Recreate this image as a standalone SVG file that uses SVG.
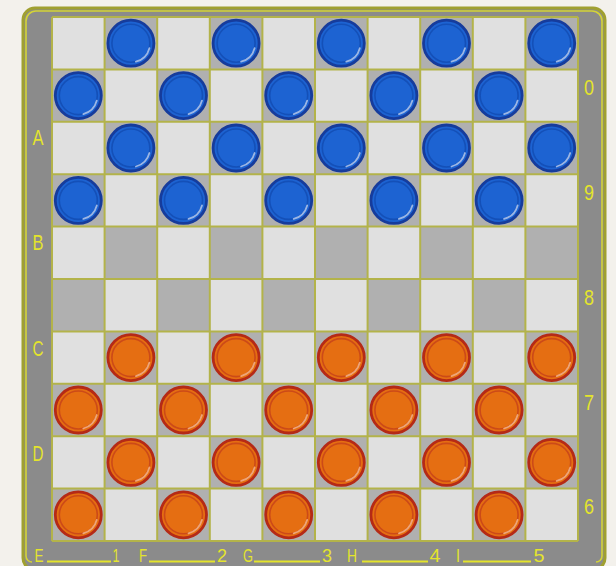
<svg xmlns="http://www.w3.org/2000/svg" xmlns:xlink="http://www.w3.org/1999/xlink" width="616" height="566" viewBox="0 0 616 566">
<defs>
<style>
.lbl{font-family:"Liberation Sans",Arial,sans-serif;font-size:22.5px;fill:#e4e42c;text-anchor:middle}
.bl{font-family:"Liberation Sans",Arial,sans-serif;font-size:19px;fill:#e4e42c;text-anchor:middle}
.dk{fill:#b0b0b0}
.gl{stroke:#b3b34a;stroke-width:2;fill:none}
.ul{stroke:#e4e42c;stroke-width:1.8;fill:none}
</style>
<g id="blue">
<circle r="23" fill="#1d63d2" stroke="#163c9c" stroke-width="2.8"/>
<circle r="19" fill="none" stroke="#1450b8" stroke-width="1.6"/>
<path d="M 18.5 5 A 19 19 0 0 1 5 18.5" fill="none" stroke="#c8d8f4" stroke-width="1.8" stroke-linecap="round" opacity="0.75"/>
</g>
<g id="orange">
<circle r="23" fill="#e56e12" stroke="#b52a16" stroke-width="2.8"/>
<circle r="19" fill="none" stroke="#cc4a18" stroke-width="1.6"/>
<path d="M 18.5 5 A 19 19 0 0 1 5 18.5" fill="none" stroke="#f8c498" stroke-width="1.8" stroke-linecap="round" opacity="0.75"/>
</g>
</defs>
<rect width="616" height="566" fill="#f3f1ec"/>
<g id="frame">
<rect x="23" y="8" width="582" height="562" rx="12" fill="#8b8b8b" stroke="#a0a030" stroke-width="3"/>
<path d="M32 562 A6 6 0 0 1 26 556 V21 A10 10 0 0 1 36 11 H592 A10 10 0 0 1 602 21 V556 A6 6 0 0 1 596 562" fill="none" stroke="#d4d436" stroke-width="1.6"/>
</g>
<g id="board">
<rect x="52" y="17" width="526" height="524" fill="#e0e0e0"/>
<g id="dark-squares">
<rect class="dk" x="104.6" y="17" width="52.6" height="52.4"/><rect class="dk" x="209.8" y="17" width="52.6" height="52.4"/><rect class="dk" x="315" y="17" width="52.6" height="52.4"/><rect class="dk" x="420.2" y="17" width="52.6" height="52.4"/><rect class="dk" x="525.4" y="17" width="52.6" height="52.4"/>
<rect class="dk" x="52" y="69.4" width="52.6" height="52.4"/><rect class="dk" x="157.2" y="69.4" width="52.6" height="52.4"/><rect class="dk" x="262.4" y="69.4" width="52.6" height="52.4"/><rect class="dk" x="367.6" y="69.4" width="52.6" height="52.4"/><rect class="dk" x="472.8" y="69.4" width="52.6" height="52.4"/>
<rect class="dk" x="104.6" y="121.8" width="52.6" height="52.4"/><rect class="dk" x="209.8" y="121.8" width="52.6" height="52.4"/><rect class="dk" x="315" y="121.8" width="52.6" height="52.4"/><rect class="dk" x="420.2" y="121.8" width="52.6" height="52.4"/><rect class="dk" x="525.4" y="121.8" width="52.6" height="52.4"/>
<rect class="dk" x="52" y="174.2" width="52.6" height="52.4"/><rect class="dk" x="157.2" y="174.2" width="52.6" height="52.4"/><rect class="dk" x="262.4" y="174.2" width="52.6" height="52.4"/><rect class="dk" x="367.6" y="174.2" width="52.6" height="52.4"/><rect class="dk" x="472.8" y="174.2" width="52.6" height="52.4"/>
<rect class="dk" x="104.6" y="226.6" width="52.6" height="52.4"/><rect class="dk" x="209.8" y="226.6" width="52.6" height="52.4"/><rect class="dk" x="315" y="226.6" width="52.6" height="52.4"/><rect class="dk" x="420.2" y="226.6" width="52.6" height="52.4"/><rect class="dk" x="525.4" y="226.6" width="52.6" height="52.4"/>
<rect class="dk" x="52" y="279" width="52.6" height="52.4"/><rect class="dk" x="157.2" y="279" width="52.6" height="52.4"/><rect class="dk" x="262.4" y="279" width="52.6" height="52.4"/><rect class="dk" x="367.6" y="279" width="52.6" height="52.4"/><rect class="dk" x="472.8" y="279" width="52.6" height="52.4"/>
<rect class="dk" x="104.6" y="331.4" width="52.6" height="52.4"/><rect class="dk" x="209.8" y="331.4" width="52.6" height="52.4"/><rect class="dk" x="315" y="331.4" width="52.6" height="52.4"/><rect class="dk" x="420.2" y="331.4" width="52.6" height="52.4"/><rect class="dk" x="525.4" y="331.4" width="52.6" height="52.4"/>
<rect class="dk" x="52" y="383.8" width="52.6" height="52.4"/><rect class="dk" x="157.2" y="383.8" width="52.6" height="52.4"/><rect class="dk" x="262.4" y="383.8" width="52.6" height="52.4"/><rect class="dk" x="367.6" y="383.8" width="52.6" height="52.4"/><rect class="dk" x="472.8" y="383.8" width="52.6" height="52.4"/>
<rect class="dk" x="104.6" y="436.2" width="52.6" height="52.4"/><rect class="dk" x="209.8" y="436.2" width="52.6" height="52.4"/><rect class="dk" x="315" y="436.2" width="52.6" height="52.4"/><rect class="dk" x="420.2" y="436.2" width="52.6" height="52.4"/><rect class="dk" x="525.4" y="436.2" width="52.6" height="52.4"/>
<rect class="dk" x="52" y="488.6" width="52.6" height="52.4"/><rect class="dk" x="157.2" y="488.6" width="52.6" height="52.4"/><rect class="dk" x="262.4" y="488.6" width="52.6" height="52.4"/><rect class="dk" x="367.6" y="488.6" width="52.6" height="52.4"/><rect class="dk" x="472.8" y="488.6" width="52.6" height="52.4"/>
</g>
<path class="gl" d="M52 17V541M104.6 17V541M157.2 17V541M209.8 17V541M262.4 17V541M315 17V541M367.6 17V541M420.2 17V541M472.8 17V541M525.4 17V541M578 17V541M52 17H578M52 69.4H578M52 121.8H578M52 174.2H578M52 226.6H578M52 279H578M52 331.4H578M52 383.8H578M52 436.2H578M52 488.6H578M52 541H578"/>
</g>
<g id="blue-pieces">
<use xlink:href="#blue" x="130.9" y="43.2"/><use xlink:href="#blue" x="236.1" y="43.2"/><use xlink:href="#blue" x="341.3" y="43.2"/><use xlink:href="#blue" x="446.5" y="43.2"/><use xlink:href="#blue" x="551.7" y="43.2"/>
<use xlink:href="#blue" x="78.3" y="95.6"/><use xlink:href="#blue" x="183.5" y="95.6"/><use xlink:href="#blue" x="288.7" y="95.6"/><use xlink:href="#blue" x="393.9" y="95.6"/><use xlink:href="#blue" x="499.1" y="95.6"/>
<use xlink:href="#blue" x="130.9" y="148"/><use xlink:href="#blue" x="236.1" y="148"/><use xlink:href="#blue" x="341.3" y="148"/><use xlink:href="#blue" x="446.5" y="148"/><use xlink:href="#blue" x="551.7" y="148"/>
<use xlink:href="#blue" x="78.3" y="200.4"/><use xlink:href="#blue" x="183.5" y="200.4"/><use xlink:href="#blue" x="288.7" y="200.4"/><use xlink:href="#blue" x="393.9" y="200.4"/><use xlink:href="#blue" x="499.1" y="200.4"/>
</g>
<g id="orange-pieces">
<use xlink:href="#orange" x="130.9" y="357.6"/><use xlink:href="#orange" x="236.1" y="357.6"/><use xlink:href="#orange" x="341.3" y="357.6"/><use xlink:href="#orange" x="446.5" y="357.6"/><use xlink:href="#orange" x="551.7" y="357.6"/>
<use xlink:href="#orange" x="78.3" y="410"/><use xlink:href="#orange" x="183.5" y="410"/><use xlink:href="#orange" x="288.7" y="410"/><use xlink:href="#orange" x="393.9" y="410"/><use xlink:href="#orange" x="499.1" y="410"/>
<use xlink:href="#orange" x="130.9" y="462.4"/><use xlink:href="#orange" x="236.1" y="462.4"/><use xlink:href="#orange" x="341.3" y="462.4"/><use xlink:href="#orange" x="446.5" y="462.4"/><use xlink:href="#orange" x="551.7" y="462.4"/>
<use xlink:href="#orange" x="78.3" y="514.8"/><use xlink:href="#orange" x="183.5" y="514.8"/><use xlink:href="#orange" x="288.7" y="514.8"/><use xlink:href="#orange" x="393.9" y="514.8"/><use xlink:href="#orange" x="499.1" y="514.8"/>
</g>
<g id="labels">
<text class="lbl" x="38" y="145" textLength="11" lengthAdjust="spacingAndGlyphs">A</text>
<text class="lbl" x="38" y="250" textLength="11" lengthAdjust="spacingAndGlyphs">B</text>
<text class="lbl" x="38" y="356" textLength="11" lengthAdjust="spacingAndGlyphs">C</text>
<text class="lbl" x="38" y="461" textLength="11" lengthAdjust="spacingAndGlyphs">D</text>
<text class="lbl" x="589" y="95" textLength="10" lengthAdjust="spacingAndGlyphs">0</text>
<text class="lbl" x="589" y="200" textLength="10" lengthAdjust="spacingAndGlyphs">9</text>
<text class="lbl" x="589" y="305" textLength="10" lengthAdjust="spacingAndGlyphs">8</text>
<text class="lbl" x="589" y="410" textLength="10" lengthAdjust="spacingAndGlyphs">7</text>
<text class="lbl" x="589" y="514" textLength="10" lengthAdjust="spacingAndGlyphs">6</text>
<text class="bl" x="39" y="562" textLength="9" lengthAdjust="spacingAndGlyphs">E</text>
<text class="bl" x="116" y="562" textLength="7" lengthAdjust="spacingAndGlyphs">1</text>
<text class="bl" x="143" y="562" textLength="8" lengthAdjust="spacingAndGlyphs">F</text>
<text class="bl" x="222" y="562" textLength="10" lengthAdjust="spacingAndGlyphs">2</text>
<text class="bl" x="248" y="562" textLength="10" lengthAdjust="spacingAndGlyphs">G</text>
<text class="bl" x="327" y="562" textLength="10" lengthAdjust="spacingAndGlyphs">3</text>
<text class="bl" x="352" y="562" textLength="10" lengthAdjust="spacingAndGlyphs">H</text>
<text class="bl" x="435" y="562" textLength="11" lengthAdjust="spacingAndGlyphs">4</text>
<text class="bl" x="458" y="562" textLength="4" lengthAdjust="spacingAndGlyphs">I</text>
<text class="bl" x="539" y="562" textLength="11" lengthAdjust="spacingAndGlyphs">5</text>
<path class="ul" d="M47 561.5H111M149 561.5H215M254 561.5H320M362 561.5H428M463 561.5H531"/>
</g>
</svg>
